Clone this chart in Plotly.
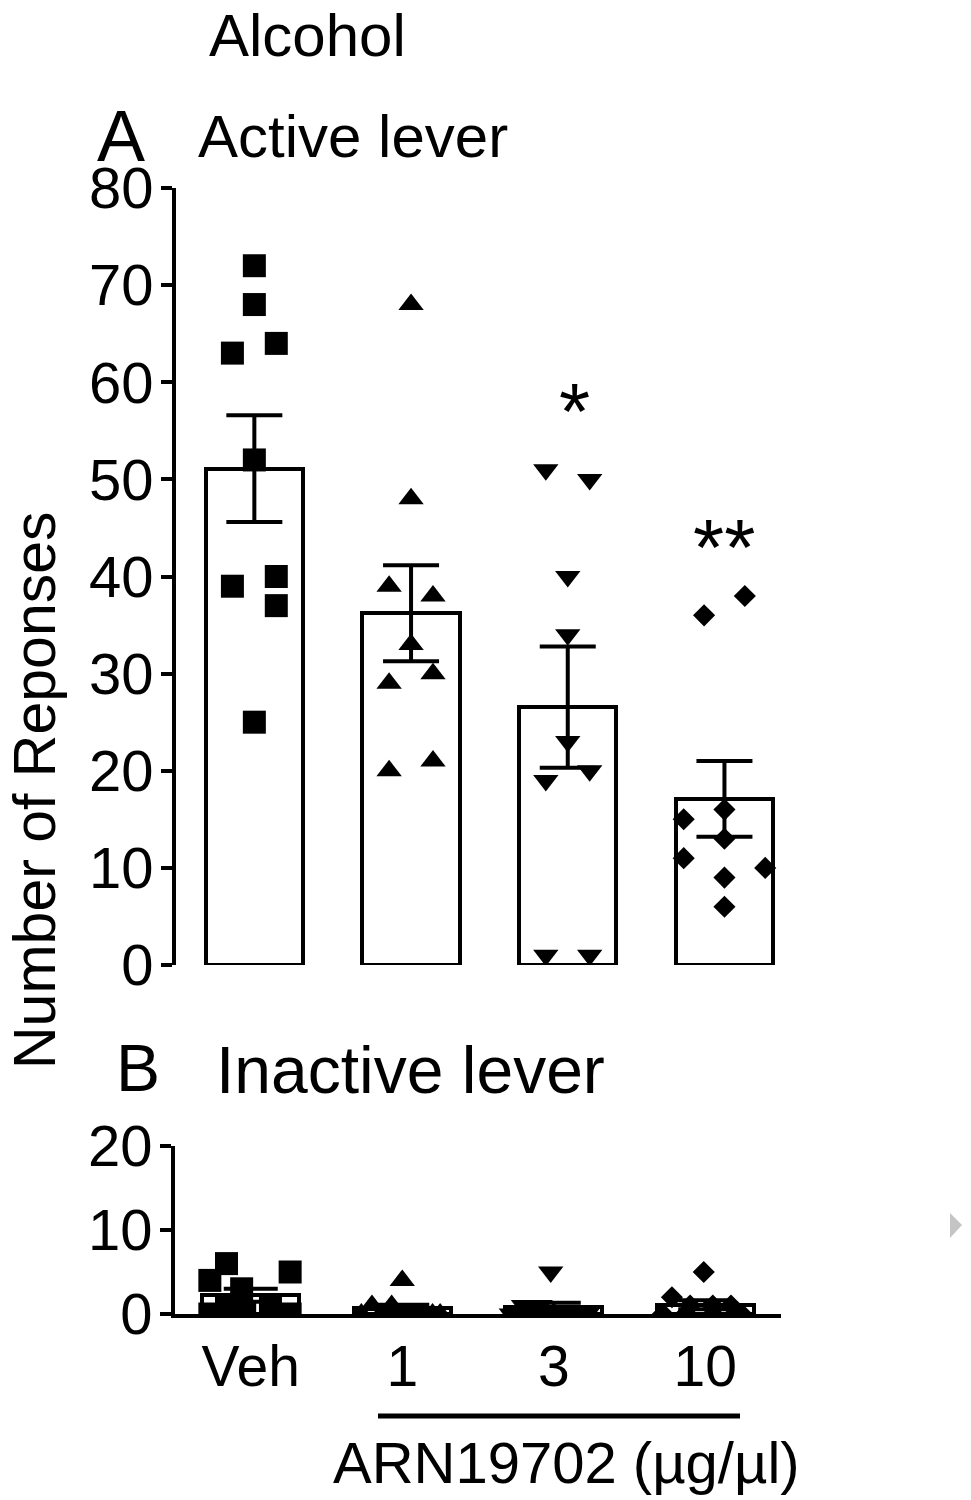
import numpy as np
import plotly.graph_objects as go

W, H = 971, 1500
OFF = 8  # page body margin of the browser

groups = ["Veh", "1", "3", "10"]
symbols = ["square", "triangle-up", "triangle-down", "diamond"]
marker_sizes = [23, 22, 22, 17]

# Panel A - Active lever (individual animals) and horizontal jitter (category units)
active_veh = [72, 68, 63, 64, 52, 39, 40, 37, 25]
active_veh_dx = [0, 0, -0.14, 0.14, 0, -0.14, 0.14, 0.14, 0]
active_1 = [68, 48, 39, 38, 33, 30, 29, 20, 21]
active_1_dx = [0, 0, -0.14, 0.14, 0, 0.14, -0.14, -0.14, 0.14]
active_3 = [51, 50, 40, 34, 23, 20, 19, 1, 1]
active_3_dx = [-0.14, 0.14, 0, 0, 0, 0.14, -0.14, -0.14, 0.14]
active_10 = [38, 36, 16, 15, 13, 11, 10, 9, 6]
active_10_dx = [0.13, -0.13, 0, -0.26, 0, -0.26, 0.26, 0, 0]

# Panel B - Inactive lever
inactive_veh = [6, 5, 4, 3, 1, 1, 0, 0, 0]
inactive_veh_dx = [-0.16, 0.26, -0.27, -0.06, -0.16, 0.13, -0.27, -0.04, 0.26]
inactive_1 = [4, 1, 1, 0, 0, 0, 0, 0, 0]
inactive_1_dx = [0, -0.2, -0.07, -0.27, -0.14, 0, 0.12, 0.2, 0.25]
inactive_3 = [5, 1, 1, 0, 0, 0, 0, 0, 0]
inactive_3_dx = [-0.02, -0.2, -0.09, -0.28, -0.15, -0.01, 0.07, 0.15, 0.22]
inactive_10 = [5, 2, 1, 1, 1, 0, 0, 0, 0]
inactive_10_dx = [-0.01, -0.22, -0.1, 0.05, 0.17, -0.28, -0.13, 0.05, 0.24]

significance = ["", "", "*", "**"]
significance_y = [None, None, 57, 43]
significance_dx = [0, 0, 0.04, 0]

active = [active_veh, active_1, active_3, active_10]
active_dx = [active_veh_dx, active_1_dx, active_3_dx, active_10_dx]
inactive = [inactive_veh, inactive_1, inactive_3, inactive_10]
inactive_dx = [inactive_veh_dx, inactive_1_dx, inactive_3_dx, inactive_10_dx]


def mean_sem(vals):
    a = np.array(vals, dtype=float)
    return a.mean(), a.std(ddof=1) / np.sqrt(len(a))


def px(x, y):
    return (x - OFF) / W, 1 - (y - OFF) / H


def xdom(a, b):
    return [(a - OFF) / W, (b - OFF) / W]


def ydom(top, bottom):
    return [1 - (bottom - OFF) / H, 1 - (top - OFF) / H]


FONT = "Liberation Sans, Arial, Helvetica, sans-serif"
fig = go.Figure()

for data, dxs, xa, ya, bw, cap in [
    (active, active_dx, "x", "y", 0.62, 28),
    (inactive, inactive_dx, "x2", "y2", 0.64, 27),
]:
    stats = [mean_sem(v) for v in data]
    means = [s[0] for s in stats]
    sems = [s[1] for s in stats]
    pos = list(range(len(groups)))
    fig.add_trace(go.Bar(
        x=pos, y=means, width=bw, xaxis=xa, yaxis=ya,
        marker=dict(color="white", line=dict(color="black", width=4)),
        hoverinfo="skip",
    ))
    for i, (vals, dx) in enumerate(zip(data, dxs)):
        fig.add_trace(go.Scatter(
            x=[i + d for d in dx], y=vals, mode="markers", xaxis=xa, yaxis=ya,
            marker=dict(symbol=symbols[i], size=marker_sizes[i], color="black",
                        line=dict(width=0)),
        ))
    fig.add_trace(go.Scatter(
        x=pos, y=means, mode="markers", xaxis=xa, yaxis=ya,
        marker=dict(size=1, color="rgba(0,0,0,0)"),
        error_y=dict(type="data", array=sems, color="black", thickness=4, width=cap),
    ))

# significance marks
for i, s in enumerate(significance):
    if s:
        fig.add_annotation(x=i + significance_dx[i], y=significance_y[i], xref="x", yref="y",
                           text=s, showarrow=False,
                           font=dict(size=80, family=FONT, color="black"),
                           yanchor="middle")

axis_common = dict(showgrid=False, zeroline=False, linecolor="black", linewidth=4,
                   tickcolor="black", tickwidth=4, ticklen=11, automargin=False,
                   ticklabelstandoff=-4,
                   tickfont=dict(size=58, family=FONT, color="black"))

fig.update_layout(
    width=W, height=H, margin=dict(l=0, r=0, t=0, b=0, pad=0, autoexpand=False),
    paper_bgcolor="white", plot_bgcolor="white", showlegend=False,
    font=dict(family=FONT, color="black"),
    bargap=0,
    xaxis=dict(domain=xdom(176, 802.8), range=[-0.5, 3.5], showline=False,
               showticklabels=False, ticks="", showgrid=False, zeroline=False, anchor="y",
               automargin=False),
    yaxis=dict(domain=ydom(188, 965), range=[0, 80], tickvals=list(range(0, 81, 10)),
               ticks="outside", showline=True, anchor="x", **axis_common),
    xaxis2=dict(domain=xdom(175, 781), range=[-0.5, 3.5], showline=True, ticks="",
                tickvals=list(range(len(groups))), ticktext=groups, anchor="y2",
                showgrid=False, zeroline=False, linecolor="black", linewidth=4,
                automargin=False,
                tickfont=dict(size=57, family=FONT, color="black")),
    yaxis2=dict(domain=ydom(1146, 1314), range=[0, 20], tickvals=[0, 10, 20],
                ticks="outside", showline=True, anchor="x2", **axis_common),
)

texts = [
    ("Alcohol", 307, 35, 60, 0),
    ("A", 121, 136, 72, 0),
    ("Active lever", 353, 137, 60, 0),
    ("B", 138, 1068, 66, 0),
    ("Inactive lever", 410, 1070, 66, 0),
    ("ARN19702 (µg/µl)", 566, 1462, 58, 0),
    ("Number of Reponses", 35, 790, 59, -90),
]
for t, x, y, s, ang in texts:
    xp, yp = px(x, y)
    fig.add_annotation(x=xp, y=yp, xref="paper", yref="paper", text=t, showarrow=False,
                       font=dict(size=s, family=FONT, color="black"), textangle=ang,
                       xanchor="center", yanchor="middle")

# underline bracket for drug doses
x0, y0 = px(378, 1416)
x1, _ = px(740, 1416)
fig.add_shape(type="line", xref="paper", yref="paper", x0=x0, x1=x1, y0=y0, y1=y0,
              line=dict(color="black", width=5))

# small grey arrow at the right edge
a1 = px(950, 1213); a2 = px(962, 1225); a3 = px(950, 1238)
fig.add_shape(type="path", xref="paper", yref="paper",
              path=f"M {a1[0]} {a1[1]} L {a2[0]} {a2[1]} L {a3[0]} {a3[1]} Z",
              fillcolor="#c4c4c4", line=dict(width=0))

fig.write_html("out.html")
